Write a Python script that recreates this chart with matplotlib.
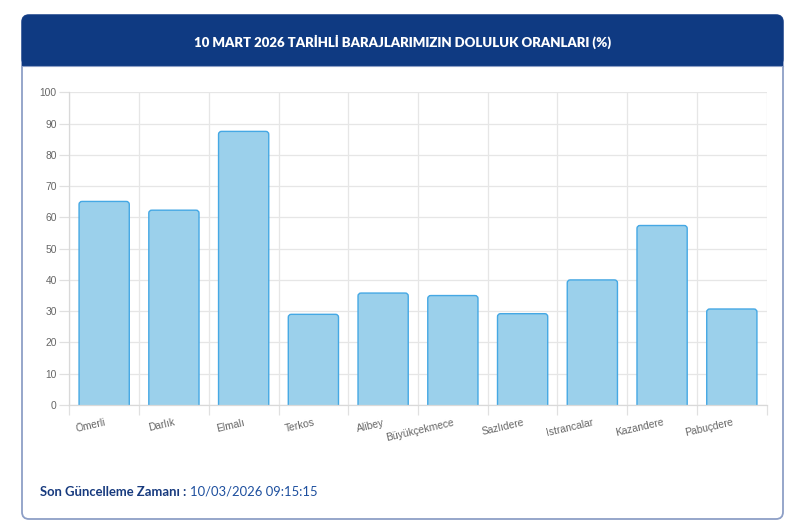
import matplotlib
matplotlib.use("Agg")
import matplotlib.pyplot as plt
from matplotlib.patches import FancyBboxPatch, Rectangle
import numpy as np

categories = ["Ömerli", "Darlık", "Elmalı", "Terkos", "Alibey", "Büyükçekmece",
              "Sazlıdere", "Istrancalar", "Kazandere", "Pabuçdere"]
values = [65.1, 62.3, 87.5, 29.0, 35.8, 35.0, 29.2, 40.0, 57.4, 30.7]
yticks = [0, 10, 20, 30, 40, 50, 60, 70, 80, 90, 100]
title = "10 MART 2026 TARİHLİ BARAJLARIMIZIN DOLULUK ORANLARI (%)"
footer_label = "Son Güncelleme Zamanı :"
footer_value = "10/03/2026 09:15:15"

W, H = 800, 526
fig = plt.figure(figsize=(W / 100, H / 100), dpi=100)
fig.patch.set_facecolor("white")

def fx(px):
    return px / W

def fy(py):
    return 1 - py / H

# Card background
bg = fig.add_axes([0, 0, 1, 1], zorder=0)
bg.set_xlim(0, W)
bg.set_ylim(H, 0)
bg.axis("off")
card = FancyBboxPatch((22, 15), 761, 504, boxstyle="round,pad=0,rounding_size=7",
                      facecolor="white", edgecolor="#8d9fc6", linewidth=1.3)
bg.add_patch(card)
header = FancyBboxPatch((22, 15), 761, 51, boxstyle="round,pad=0,rounding_size=7",
                        facecolor="#0f3a82", edgecolor="#0f3a82", linewidth=0.8)
bg.add_patch(header)
bg.add_patch(Rectangle((22, 45), 761, 21, facecolor="#0f3a82", edgecolor="none"))
bg.plot([22, 783], [66, 66], color="#8d9fc6", lw=0.8)

bg.text(402.5, 42, title, ha="center", va="center", color="white",
        fontsize=9.5, fontweight="heavy", family="Lato")

t1 = bg.text(40, 492, footer_label + " ", ha="left", va="center", color="#173a7e",
             fontsize=9.4, fontweight="bold", family="Lato")
fig.canvas.draw()
bb = t1.get_window_extent(renderer=fig.canvas.get_renderer())
x_end = bb.x1
bg.text(x_end, 492, footer_value, ha="left", va="center", color="#1d4f9e",
        fontsize=9.4, family="Lato")

# Chart axes
left, right, top, bottom = 69.3, 766.7, 92.3, 405
ax = fig.add_axes([fx(left), fy(bottom), fx(right - left), (bottom - top) / H], zorder=1)
ax.patch.set_alpha(0)
x = np.arange(len(categories))
ax.set_xlim(-0.5, len(categories) - 0.5)
ax.set_ylim(0, 100)
bars = ax.bar(x, values, width=0.72, color="none", edgecolor="none")

# rounded-top bars built from the bar geometry
x_per_px = (len(categories)) / (right - left)
y_per_px = 100 / (bottom - top)
r_px = 3.0
for b in bars:
    bx, bw, bh = b.get_x(), b.get_width(), b.get_height()
    ext = 3 * y_per_px  # push the rounded bottom below the axis
    p = FancyBboxPatch((bx, -ext), bw, bh + ext,
                       boxstyle=f"round,pad=0,rounding_size={r_px * x_per_px}",
                       mutation_aspect=y_per_px / x_per_px,
                       facecolor="#9bd0eb", edgecolor="#45a8e4", linewidth=1.0,
                       zorder=3, clip_on=True)
    ax.add_patch(p)
    p.set_clip_path(ax.patch)

ax.set_yticks(yticks)
ax.set_yticklabels([str(v) for v in yticks])
ax.set_xticks(x)
ax.set_xticklabels(categories, rotation=13, ha="right", va="top", rotation_mode="anchor")
ax.set_xticks(np.arange(len(categories) + 1) - 0.5, minor=True)

ax.grid(axis="y", which="major", color="#e6e6e6", lw=0.9, zorder=0)
ax.grid(axis="x", which="minor", color="#e6e6e6", lw=0.9, zorder=0)
ax.tick_params(axis="x", which="major", length=0, pad=9, labelsize=7.4, labelcolor="#666666")
ax.tick_params(axis="x", which="minor", length=7, color="#e0e0e0", width=0.9)
ax.tick_params(axis="y", which="major", length=7, color="#e0e0e0", width=0.9,
               labelsize=7.4, labelcolor="#666666", pad=2)
for lab in ax.get_xticklabels() + ax.get_yticklabels():
    lab.set_family("Liberation Sans")
for s in ["top", "right"]:
    ax.spines[s].set_visible(False)
ax.spines["left"].set_color("#d9d9d9")
ax.spines["bottom"].set_color("#d9d9d9")
ax.spines["left"].set_linewidth(0.9)
ax.spines["bottom"].set_linewidth(0.9)
ax.spines["bottom"].set_zorder(4)

fig.savefig("out.png", dpi=100)
